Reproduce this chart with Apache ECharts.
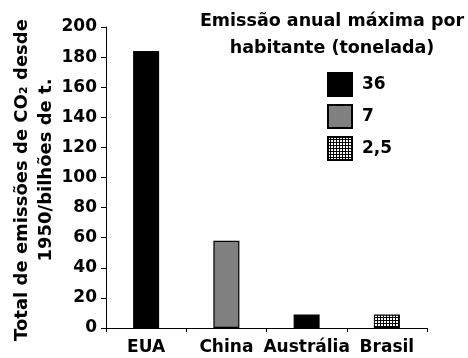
<!DOCTYPE html>
<html>
<head>
<meta charset="utf-8">
<script src="https://cdn.jsdelivr.net/npm/echarts@6/dist/echarts.min.js"></script>
<style>
html,body{margin:0;padding:0;background:#fff;}
#c{width:468px;height:358px;}
</style>
</head>
<body>
<div id="c"></div>
<script>
var categories = ['EUA', 'China', 'Austrália', 'Brasil'];
var seriesNames = ['36', '7', '2,5'];
var values36 = [184, null, 9, null];
var values7 = [null, 58, null, null];
var values25 = [null, null, null, 9];
var yTicks = [0, 20, 40, 60, 80, 100, 120, 140, 160, 180, 200];

var FONT = '"DejaVu Sans", Verdana, sans-serif';

// dotted pattern for 2,5
var pc = document.createElement('canvas');
pc.width = 3; pc.height = 3;
var pctx = pc.getContext('2d');
pctx.fillStyle = '#000';
pctx.fillRect(0, 0, 3, 3);
pctx.fillStyle = '#fff';
pctx.fillRect(0, 0, 2, 2);

var chart = echarts.init(document.getElementById('c'), null, {renderer: 'canvas'});

function bar(name, data, color) {
  return {
    name: name,
    type: 'bar',
    data: data,
    barWidth: 26,
    barGap: '-100%',
    itemStyle: {color: color, borderColor: '#000', borderWidth: 1.2},
    emphasis: {disabled: true}
  };
}

chart.setOption({
  animation: false,
  backgroundColor: '#fff',
  title: {
    text: 'Emissão anual máxima por\nhabitante (tonelada)',
    left: 327,
    top: 3,
    textAlign: 'center',
    textStyle: {fontFamily: FONT, fontWeight: 'bold', fontSize: 17.5, lineHeight: 27, color: '#000'}
  },
  legend: {
    orient: 'vertical',
    left: 322,
    top: 67,
    itemWidth: 24,
    itemHeight: 23,
    itemGap: 7,
    icon: 'rect',
    data: seriesNames,
    selectedMode: false,
    textStyle: {fontFamily: FONT, fontWeight: 'bold', fontSize: 17, color: '#000', padding: [0, 0, 0, 5]}
  },
  grid: {left: 106, right: 41, top: 27, bottom: 30, containLabel: false},
  xAxis: {
    type: 'category',
    data: categories,
    axisLine: {lineStyle: {color: '#000', width: 1}},
    axisTick: {show: true, length: 4, lineStyle: {color: '#000'}},
    axisLabel: {interval: 0, margin: 11, fontFamily: FONT, fontWeight: 'bold', fontSize: 17, color: '#000'}
  },
  yAxis: {
    type: 'value',
    min: yTicks[0],
    max: yTicks[yTicks.length - 1],
    interval: 20,
    splitLine: {show: false},
    axisLine: {show: true, lineStyle: {color: '#000', width: 1}},
    axisTick: {show: true, length: 5, lineStyle: {color: '#000'}},
    axisLabel: {margin: 9, fontFamily: FONT, fontWeight: 'bold', fontSize: 17, color: '#000'}
  },
  graphic: [
    {
      type: 'text',
      x: 22, y: 180,
      rotation: Math.PI / 2,
      style: {
        text: 'Total de emissões de CO₂ desde',
        font: 'bold 18px ' + FONT,
        fill: '#000',
        align: 'center',
        verticalAlign: 'middle'
      }
    },
    {
      type: 'text',
      x: 46, y: 170,
      rotation: Math.PI / 2,
      style: {
        text: '1950/bilhões de t.',
        font: 'bold 18px ' + FONT,
        fill: '#000',
        align: 'center',
        verticalAlign: 'middle'
      }
    }
  ],
  series: [
    bar(seriesNames[0], values36, '#000'),
    bar(seriesNames[1], values7, '#808080'),
    bar(seriesNames[2], values25, {image: pc, repeat: 'repeat'})
  ]
});
</script>
</body>
</html>
